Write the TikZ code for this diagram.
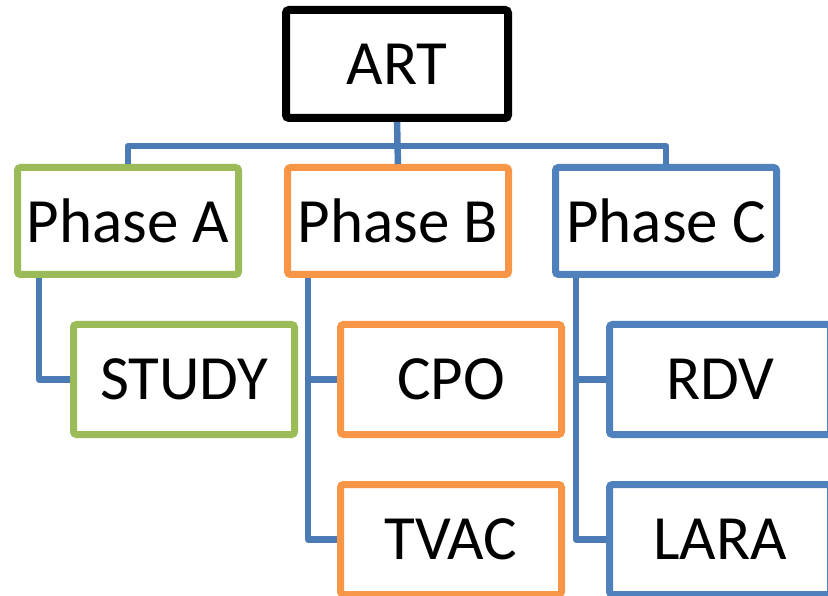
\documentclass[tikz,border=0pt]{standalone}
\usepackage{fontspec}
\setmainfont{Carlito}
\usepackage{xcolor}
\usepackage{tikz}
\usetikzlibrary{positioning}
\definecolor{phaseGreen}{HTML}{9BBB59}
\definecolor{phaseOrange}{HTML}{F79646}
\definecolor{phaseBlue}{HTML}{4F81BD}
\definecolor{linkBlue}{HTML}{4A7BB5}
\tikzset{%
  % ------------
  % boxes
  % ------------
  rootBox/.style={rectangle, draw=black, fill=white, line width=8pt, rounded corners=3pt, minimum width=222pt, minimum height=108pt, inner sep=0pt, font=\fontsize{63}{70}\selectfont},
  phaseBox/.style={rectangle, fill=white, line width=7pt, rounded corners=3pt, minimum width=221pt, minimum height=107pt, inner sep=0pt, font=\fontsize{63}{70}\selectfont},
  taskBox/.style={phaseBox, minimum height=110pt},
  % ------------
  % connectors
  % ------------
  link/.style={draw=linkBlue, line width=6.5pt, line join=round}}

\begin{document}
\begin{tikzpicture}[x=1pt,y=-1pt]
    \useasboundingbox (0,0) rectangle (828,596);

    \node[rootBox] (art) at (397,64) {ART};

    \node[phaseBox, draw=phaseGreen] (phaseA) at (128,221) {Phase A};
    \node[phaseBox, draw=phaseOrange] (phaseB) at (398,221) {Phase B};
    \node[phaseBox, draw=phaseBlue] (phaseC) at (666,221) {Phase C};

    \node[taskBox, draw=phaseGreen] (study) at (184,379.5) {STUDY};
    \node[taskBox, draw=phaseOrange] (cpo) at (451,379.5) {CPO};
    \node[taskBox, draw=phaseOrange] (tvac) at (451,539.5) {TVAC};
    \node[taskBox, draw=phaseBlue] (rdv) at (720,379.5) {RDV};
    \node[taskBox, draw=phaseBlue] (lara) at (720,539.5) {LARA};

    % top level
    \draw[link] (art.south) -- (phaseB.north);
    \draw[link] (phaseA.north) -- ++(0,-18) -| (phaseC.north);

    % phase branches
    \coordinate (branchA) at ([xshift=25pt]phaseA.south west);
    \coordinate (branchB) at ([xshift=24pt]phaseB.south west);
    \coordinate (branchC) at ([xshift=24pt]phaseC.south west);

    \draw[link] (branchA) |- (study.west);
    \draw[link] (branchB) |- (tvac.west);
    \draw[link] (branchB |- cpo.west) -- (cpo.west);
    \draw[link] (branchC) |- (lara.west);
    \draw[link] (branchC |- rdv.west) -- (rdv.west);

    \end{tikzpicture}
\end{document}
